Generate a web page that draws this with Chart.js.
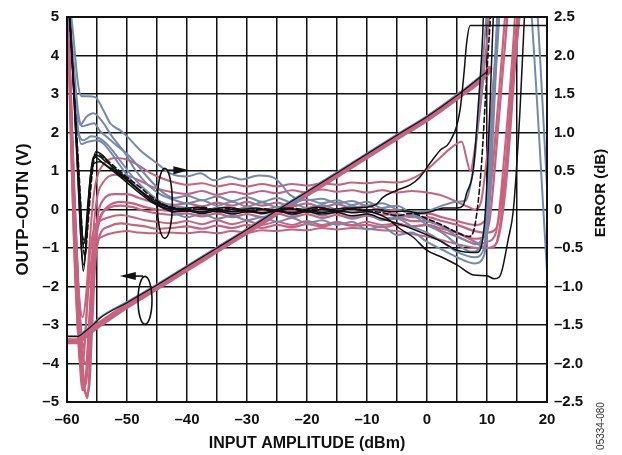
<!DOCTYPE html>
<html>
<head>
<meta charset="utf-8">
<script src="https://cdn.jsdelivr.net/npm/chart.js@4"></script>
<style>
  html, body { margin: 0; padding: 0; background: #fff; }
  #wrap { width: 622px; height: 455px; }
</style>
</head>
<body>
<div id="wrap"><canvas id="chart" width="622" height="455"></canvas></div>
<script>
// axis ranges / ticks
const xMin = -60, xMax = 20, xStep = 5;
const vMin = -5, vMax = 5, vStep = 1;
const eMin = -2.5, eMax = 2.5, eStep = 0.5;

// OUTP-OUTN (V) vs input (dBm), left axis
const voltPink = [[-60,-3.42],[-58.4,-3.42],[-57.6,-3.35],[-56,-3.15],[-54.8,-3.0],[-54,-2.92],[-50,-2.5],[-45,-2.02],[-40,-1.54],[-35,-1.05],[-30,-0.57],[-25,-0.08],[-20,0.41],[-15,0.9],[-10,1.39],[-5,1.88],[0,2.36],[5,2.92],[10,3.55],[10.4,3.65]];
const voltBlue = [[-60,-3.28],[-58.3,-3.28],[-57,-3.15],[-55.5,-2.95],[-54.3,-2.78],[-50,-2.4],[-45,-1.94],[-40,-1.46],[-35,-0.98],[-30,-0.5],[-25,0.0],[-20,0.48],[-15,0.97],[-10,1.46],[-5,1.95],[0,2.43],[5,2.98],[10,3.6]];
const voltBlack = [[-60,-3.3],[-58.3,-3.3],[-57,-3.17],[-55.5,-2.97],[-54.3,-2.8],[-50,-2.42],[-45,-1.96],[-40,-1.48],[-35,-1.0],[-30,-0.52],[-25,-0.02],[-20,0.46],[-15,0.95],[-10,1.44],[-5,1.93],[0,2.41],[5,2.96],[10,3.58]];

// ERROR (dB) vs input (dBm), right axis
const errBlack1 = [[-60,3.0],[-59.2,2.0],[-58.4,1.0],[-57.8,0.2],[-57.4,-0.4],[-57,-0.6],[-56.6,-0.3],[-56,0.3],[-55.5,0.65],[-55,0.72],[-54,0.68],[-52,0.55],[-50,0.42],[-48,0.3],[-46,0.17],[-44,0.07],[-42,0.02],[-40,0.0],[-37.5,0.03],[-35,-0.01],[-32.5,0.02],[-30,-0.02],[-27.5,0.01],[-25,-0.01],[-22.5,0.02],[-20,-0.01],[-17.5,0.02],[-15,-0.02],[-12.5,0.01],[-10,-0.02],[-7.5,-0.04],[-5,-0.08],[-2.5,-0.05],[0,-0.12],[2.5,-0.2],[5,-0.3],[7,-0.35],[8,-0.2],[9,0.5],[10,1.8],[11,3.0]];
const errBlack2 = [[-60,3.2],[-59.3,2.2],[-58.5,0.9],[-57.8,-0.2],[-57.3,-0.8],[-56.9,-0.55],[-56.3,0.2],[-55.7,0.6],[-55.2,0.75],[-54,0.7],[-52,0.5],[-50,0.38],[-48,0.25],[-46,0.12],[-44,0.03],[-42,0.0],[-40,-0.02],[-37.5,0.01],[-35,-0.03],[-32.5,0.0],[-30,-0.03],[-27.5,0.0],[-25,-0.02],[-22.5,0.01],[-20,-0.03],[-17.5,0.0],[-15,-0.02],[-12.5,0.02],[-10,0.03],[-8.4,0.07],[-7.3,0.16],[-5,0.25],[-2.8,0.32],[-1.2,0.42],[0.5,0.6],[2.2,0.77],[3.8,0.88],[5.5,1.29],[6.2,1.8],[6.6,2.16],[7.2,2.39],[20,2.39]];
const errBlack3 = [[-60,3.0],[-59,1.8],[-58.2,0.5],[-57.6,-0.5],[-57.2,-0.72],[-56.7,-0.3],[-56,0.4],[-55.5,0.6],[-54.5,0.62],[-53,0.55],[-51,0.45],[-49,0.32],[-47,0.2],[-45,0.1],[-43,0.03],[-40,-0.01],[-37.5,-0.03],[-35,0.0],[-32.5,-0.03],[-30,-0.01],[-27.5,-0.04],[-25,-0.02],[-22.5,-0.04],[-20,-0.01],[-17.5,-0.04],[-15,-0.02],[-12.5,-0.04],[-10,-0.03],[-7,-0.1],[-4.5,-0.25],[-2.3,-0.36],[0,-0.53],[2.5,-0.62],[5,-0.72],[7.8,-0.85],[10,-0.86],[11.2,-0.9],[12,-0.88],[12.5,-0.79],[13.5,-0.4],[14.4,0.0],[15.5,1.29],[16.3,2.6],[16.6,3.0]];
const errBlack4 = [[-60,3.1],[-59.1,1.9],[-58.3,0.8],[-57.7,0.0],[-57.3,-0.45],[-56.8,-0.3],[-56.2,0.35],[-55.6,0.68],[-55,0.7],[-53.5,0.62],[-51.5,0.5],[-49.5,0.36],[-47.5,0.22],[-45.5,0.1],[-43.5,0.04],[-41,0.01],[-38.5,0.03],[-36,0.0],[-33.5,0.03],[-31,0.0],[-28.5,0.02],[-26,-0.01],[-23.5,0.02],[-21,-0.01],[-18.5,0.03],[-16,0.0],[-13.5,0.02],[-11,-0.01],[-8.5,0.0],[-6,-0.03],[-3.5,-0.02],[-1,-0.05],[1,-0.02],[2.7,0.02],[5,0.02],[6,0.05],[6.6,0.21],[7.7,0.51],[8.5,1.3],[9.3,2.3],[9.6,3.0]];
const errBlack5 = [[-60,2.9],[-59.4,2.3],[-58.6,1.1],[-58,0.3],[-57.5,-0.3],[-57.1,-0.4],[-56.5,0.1],[-55.9,0.55],[-55.3,0.68],[-54,0.6],[-52,0.48],[-50,0.35],[-48,0.22],[-46,0.1],[-44,0.02],[-42,-0.03],[-40,-0.02],[-37.5,-0.05],[-35,-0.02],[-32.5,-0.06],[-30,-0.03],[-27.5,-0.05],[-25,-0.02],[-22.5,-0.06],[-20,-0.03],[-17.5,-0.06],[-15,-0.04],[-12.5,-0.08],[-10,-0.06],[-7.5,-0.12],[-5,-0.18],[-2.5,-0.25],[0,-0.33],[2.5,-0.42],[5,-0.53],[8.3,-0.56],[9.5,-0.25],[10,0.37],[10.8,2.0],[11.3,3.0]];

const errBlue1 = [[-60,3.0],[-59,2.3],[-58.2,1.65],[-57.6,1.47],[-56.5,1.47],[-55.3,1.46],[-54,1.3],[-52.8,1.12],[-51,1.02],[-50,0.95],[-47.8,0.77],[-45,0.6],[-42.8,0.47],[-40,0.43],[-37.8,0.47],[-35.5,0.38],[-33,0.43],[-31,0.39],[-28,0.44],[-25.5,0.41],[-24,0.3],[-23,0.2],[-20,0.12],[-17.5,0.14],[-15,0.08],[-12.5,0.11],[-10,0.05],[-7.5,0.08],[-5,0.0],[-2.5,-0.05],[0,-0.15],[2.5,-0.22],[5,-0.35],[7,-0.42],[8,-0.45],[9.5,-0.3],[10.5,0.8],[11.5,2.2],[12,3.0]];
const errBlue2 = [[-60,2.9],[-59,2.0],[-58.2,1.3],[-57.5,1.08],[-56.5,1.1],[-55.5,1.12],[-54.5,1.02],[-53,0.92],[-52,0.85],[-50,0.72],[-48,0.55],[-46,0.37],[-44,0.22],[-42,0.15],[-40,0.18],[-37.5,0.12],[-35,0.17],[-32.5,0.11],[-30,0.16],[-27.5,0.1],[-25,0.15],[-22.5,0.09],[-20,0.13],[-17.5,0.08],[-15,0.12],[-12.5,0.06],[-10,0.1],[-7.5,0.02],[-5,0.05],[-2.5,-0.04],[0,-0.02],[2.5,0.05],[5,0.1],[6.5,0.12],[7.2,0.3],[8,0.7],[9,1.6],[10,2.6],[10.5,3.0]];
const errBlue3 = [[-60,2.8],[-59,1.8],[-58.2,1.05],[-57.2,0.9],[-56,0.95],[-54.5,0.92],[-53,0.82],[-51,0.62],[-49,0.42],[-47,0.26],[-45,0.13],[-42.5,0.05],[-40,0.02],[-37.5,-0.04],[-35,0.02],[-32.5,-0.05],[-30,0.01],[-27.5,-0.06],[-25,0.0],[-22.5,-0.07],[-20,-0.02],[-17.5,-0.08],[-15,-0.03],[-12.5,-0.1],[-10,-0.06],[-7.5,-0.14],[-5,-0.12],[-2.5,-0.22],[0,-0.3],[2.5,-0.42],[5,-0.55],[8,-0.62],[9.5,-0.5],[10.5,0.5],[11.5,2.0],[12,3.0],[15,4.5],[18,3.0],[20,0.3]];
const errBlue4 = [[-60,2.9],[-59.2,2.1],[-58.4,1.2],[-57.6,0.85],[-56.5,0.88],[-55,0.9],[-54,0.86],[-52.5,0.72],[-50.5,0.5],[-48.5,0.3],[-46.5,0.15],[-44,0.02],[-42,-0.05],[-40,-0.1],[-37.5,-0.06],[-35,-0.12],[-32.5,-0.08],[-30,-0.14],[-27.5,-0.1],[-25,-0.16],[-22.5,-0.11],[-20,-0.18],[-17.5,-0.14],[-15,-0.2],[-12.5,-0.16],[-10,-0.26],[-7.5,-0.22],[-5,-0.33],[-2.5,-0.3],[0,-0.42],[2.5,-0.52],[5,-0.62],[8,-0.7],[9.5,-0.6],[10.5,0.2],[11.5,1.8],[12.5,3.0],[15,4.5],[17,3.0],[20,-0.8]];
const errBlue5 = [[-60,3.0],[-59.3,2.2],[-58.5,1.4],[-57.8,1.1],[-56.8,1.2],[-55.6,1.25],[-54.2,1.15],[-52.5,0.95],[-50.5,0.75],[-48.5,0.5],[-46.5,0.32],[-44.5,0.2],[-42,0.12],[-40,0.08],[-37.5,0.12],[-35,0.05],[-32.5,0.1],[-30,0.04],[-27.5,0.09],[-25,0.03],[-22.5,0.08],[-20,0.02],[-17.5,0.06],[-15,0.0],[-12.5,0.05],[-10,-0.02],[-7.5,0.02],[-5,-0.1],[-2.5,-0.08],[0,-0.2],[2.5,-0.3],[5,-0.45],[7.5,-0.55],[9,-0.45],[10,0.0],[11,1.2],[12,2.6],[12.3,3.0]];

const errPink1 = [[-60,3.0],[-59.3,1.2],[-58.6,-0.3],[-58,-1.1],[-57.4,-1.4],[-56.8,-1.1],[-56.2,-0.4],[-55.6,0.15],[-55,0.42],[-54,0.58],[-52,0.67],[-50,0.65],[-48,0.57],[-46,0.47],[-44,0.4],[-42,0.35],[-40,0.32],[-37.5,0.34],[-35,0.3],[-32.5,0.33],[-30,0.3],[-27.5,0.33],[-25,0.3],[-22.5,0.33],[-20,0.31],[-17.5,0.34],[-15,0.32],[-12.5,0.35],[-10,0.34],[-7.5,0.36],[-5,0.35],[-2.5,0.4],[0,0.52],[2,0.66],[4,0.8],[5.8,0.88],[6.6,0.66],[7.2,0.5],[8,0.8],[9,1.4],[10,2.2],[11,3.0]];
const errPink2 = [[-60,3.0],[-59.4,1.5],[-58.7,0.0],[-58,-1.2],[-57.3,-1.9],[-56.8,-2.0],[-56.2,-1.3],[-55.6,-0.3],[-55,0.15],[-54,0.35],[-52,0.45],[-50,0.44],[-48,0.38],[-46,0.3],[-44,0.25],[-42,0.22],[-40,0.2],[-37.5,0.24],[-35,0.19],[-32.5,0.23],[-30,0.2],[-27.5,0.24],[-25,0.21],[-22.5,0.25],[-20,0.22],[-17.5,0.26],[-15,0.23],[-12.5,0.25],[-10,0.22],[-7.5,0.25],[-5,0.22],[-2.5,0.24],[0,0.22],[2.5,0.18],[5,0.1],[7,0.03],[8,0.0],[9,0.1],[10,0.7],[11,1.6],[12,2.5],[12.5,3.0]];
const errPink3 = [[-60,3.0],[-59.5,1.8],[-58.8,0.3],[-58,-1.2],[-57.2,-2.2],[-56.6,-2.45],[-56,-1.6],[-55.4,-0.5],[-54.8,-0.05],[-54,0.12],[-52,0.2],[-50,0.2],[-48,0.15],[-46,0.1],[-44,0.07],[-42,0.06],[-40,0.08],[-37.5,0.04],[-35,0.09],[-32.5,0.05],[-30,0.1],[-27.5,0.05],[-25,0.09],[-22.5,0.04],[-20,0.08],[-17.5,0.03],[-15,0.07],[-12.5,0.02],[-10,0.05],[-7.5,-0.02],[-5,0.0],[-2.5,-0.06],[0,-0.05],[2.5,-0.1],[5,-0.15],[8,-0.2],[10,-0.1],[11,0.6],[12.5,2.0],[13.5,3.0]];
const errPink4 = [[-60,3.0],[-59.4,1.4],[-58.6,-0.4],[-57.8,-1.7],[-57.2,-2.3],[-56.6,-2.1],[-56,-1.2],[-55.3,-0.35],[-54.5,-0.1],[-53,0.02],[-51,0.05],[-49,0.03],[-47,-0.02],[-45,-0.05],[-42.5,-0.07],[-40,-0.05],[-37.5,-0.09],[-35,-0.05],[-32.5,-0.1],[-30,-0.06],[-27.5,-0.1],[-25,-0.05],[-22.5,-0.1],[-20,-0.06],[-17.5,-0.11],[-15,-0.07],[-12.5,-0.12],[-10,-0.08],[-7.5,-0.12],[-5,-0.1],[-2.5,-0.15],[0,-0.15],[2.5,-0.22],[5,-0.3],[8,-0.38],[9.5,-0.36],[10.5,-0.1],[12,1.2],[13.5,2.6],[14,3.0]];
const errPink5 = [[-60,3.0],[-59.5,1.9],[-58.9,0.4],[-58.2,-0.9],[-57.6,-1.6],[-57.2,-1.8],[-56.7,-1.3],[-56.2,-0.6],[-55.5,-0.25],[-54.5,-0.15],[-53,-0.1],[-51,-0.07],[-49,-0.1],[-47,-0.14],[-45,-0.16],[-42.5,-0.18],[-40,-0.15],[-37.5,-0.19],[-35,-0.14],[-32.5,-0.19],[-30,-0.15],[-27.5,-0.2],[-25,-0.16],[-22.5,-0.2],[-20,-0.15],[-17.5,-0.2],[-15,-0.16],[-12.5,-0.2],[-10,-0.16],[-7.5,-0.2],[-5,-0.18],[-2.5,-0.22],[0,-0.2],[2.5,-0.28],[5,-0.35],[8.5,-0.45],[10,-0.42],[11.5,-0.3],[13,0.8],[14.5,2.3],[15,3.0]];
const errPink6 = [[-60,3.0],[-59.6,2.0],[-59,0.5],[-58.3,-1.0],[-57.6,-2.0],[-56.9,-2.4],[-56.3,-2.3],[-55.8,-1.5],[-55.3,-0.7],[-54.6,-0.35],[-53,-0.22],[-51,-0.18],[-49,-0.2],[-47,-0.22],[-45,-0.25],[-42.5,-0.24],[-40,-0.22],[-37.5,-0.25],[-35,-0.21],[-32.5,-0.24],[-30,-0.2],[-27.5,-0.24],[-25,-0.2],[-22.5,-0.23],[-20,-0.19],[-17.5,-0.22],[-15,-0.18],[-12.5,-0.21],[-10,-0.2],[-7.5,-0.23],[-5,-0.2],[-2.5,-0.22],[0,-0.2],[2.5,-0.25],[5,-0.3],[8,-0.42],[10,-0.5],[11.5,-0.45],[13,0.2],[15,2.2],[16,3.0]];
const errPink7 = [[-60,3.0],[-59.5,1.3],[-58.9,-0.3],[-58.3,-1.4],[-57.8,-2.0],[-57.2,-1.9],[-56.6,-1.2],[-56,-0.7],[-55.3,-0.45],[-54,-0.35],[-52,-0.3],[-50,-0.28],[-48,-0.3],[-46,-0.31],[-43,-0.3],[-40,-0.31],[-37.5,-0.29],[-35,-0.31],[-32.5,-0.28],[-30,-0.3],[-27.5,-0.27],[-25,-0.28],[-22.5,-0.26],[-20,-0.27],[-17.5,-0.24],[-15,-0.26],[-12.5,-0.24],[-10,-0.25],[-7.5,-0.27],[-5,-0.28],[-2.5,-0.32],[0,-0.35],[2.5,-0.4],[5,-0.45],[9,-0.5],[11,-0.5],[12.5,0.0],[14,1.5],[15.5,3.0]];
const errPink8 = [[-60,3.0],[-59.3,0.8],[-58.6,-0.9],[-58,-1.8],[-57.4,-2.35],[-56.9,-2.2],[-56.4,-1.6],[-55.8,-0.9],[-55.2,-0.4],[-54.4,-0.1],[-53,0.05],[-51,0.1],[-49,0.08],[-47,0.03],[-45,0.0],[-42.5,-0.02],[-40,0.01],[-37.5,-0.03],[-35,0.02],[-32.5,-0.02],[-30,0.03],[-27.5,-0.01],[-25,0.03],[-22.5,-0.02],[-20,0.02],[-17.5,-0.03],[-15,0.01],[-12.5,-0.04],[-10,-0.02],[-7.5,-0.07],[-5,-0.06],[-2.5,-0.1],[0,-0.1],[2.5,-0.15],[5,-0.2],[8,-0.28],[10,-0.3],[11.5,-0.25],[13,0.5],[14.5,1.8],[16,2.9],[16.5,3.2]];

const PINK = '#c9627f';
const BLUE = '#7489ab';
const BLACK = '#111111';
const FONT = 'Liberation Sans, Arial, Helvetica, sans-serif';

function fmt(v, digits) {
    if (v === 0) return '0';
    const s = Math.abs(v).toFixed(digits);
    return v < 0 ? '\u2013' + s : s;
}

function line(data, color, width, axis, dash) {
    return {
        data: data,
        yAxisID: axis,
        borderColor: color,
        borderWidth: width,
        borderDash: dash || [],
        pointRadius: 0,
        fill: false,
        cubicInterpolationMode: 'monotone',
        borderJoinStyle: 'round',
        borderCapStyle: 'round'
    };
}

// first dataset is drawn on top
const datasets = [
    line(errBlack1, BLACK, 1.6, 'y2', [5, 3]),
    line(errBlack2, BLACK, 1.5, 'y2'),
    line(errBlack3, BLACK, 1.5, 'y2'),
    line(errBlack4, BLACK, 1.5, 'y2'),
    line(errBlack5, BLACK, 1.5, 'y2'),
    line(voltBlack, BLACK, 1.2, 'y'),
    line(voltBlue, BLUE, 1.8, 'y'),
    line(errBlue1, BLUE, 2, 'y2'),
    line(errBlue2, BLUE, 2, 'y2'),
    line(errBlue3, BLUE, 2, 'y2'),
    line(errBlue4, BLUE, 2, 'y2'),
    line(errBlue5, BLUE, 2, 'y2'),
    line(voltPink, PINK, 6, 'y'),
    line(errPink1, PINK, 2, 'y2'),
    line(errPink2, PINK, 2, 'y2'),
    line(errPink3, PINK, 2.2, 'y2'),
    line(errPink4, PINK, 2.2, 'y2'),
    line(errPink5, PINK, 2, 'y2'),
    line(errPink6, PINK, 2.2, 'y2'),
    line(errPink7, PINK, 2, 'y2'),
    line(errPink8, PINK, 2.2, 'y2')
];

// ellipse + arrow markers telling which curve belongs to which axis
const markers = {
    id: 'markers',
    afterDatasetsDraw(chart) {
        const { ctx, scales } = chart;
        const x = scales.x, yv = scales.y;
        ctx.save();
        ctx.strokeStyle = BLACK;
        ctx.fillStyle = BLACK;
        ctx.lineWidth = 1.6;

        function marker(cxVal, cyVal, rx, ry, tipVal, arrowY) {
            const cx = x.getPixelForValue(cxVal);
            const cy = yv.getPixelForValue(cyVal);
            const tip = x.getPixelForValue(tipVal);
            const ay = yv.getPixelForValue(arrowY);
            ctx.beginPath();
            ctx.ellipse(cx, cy, rx, ry, 0, 0, Math.PI * 2);
            ctx.stroke();
            const dir = tip > cx ? 1 : -1;
            ctx.beginPath();
            ctx.moveTo(cx + dir * 2, ay);
            ctx.lineTo(tip - dir * 12, ay);
            ctx.stroke();
            ctx.beginPath();
            ctx.moveTo(tip, ay);
            ctx.lineTo(tip - dir * 16, ay - 4);
            ctx.lineTo(tip - dir * 16, ay + 4);
            ctx.closePath();
            ctx.fill();
        }
        marker(-43.7, 0.16, 7.5, 35, -39.6, 1.02);
        marker(-47, -2.36, 7, 24, -51.2, -1.73);
        ctx.restore();

        // right axis title reads bottom to top like the left one
        ctx.save();
        ctx.translate(601, 193);
        ctx.rotate(-Math.PI / 2);
        ctx.font = 'bold 15px ' + FONT;
        ctx.fillStyle = BLACK;
        ctx.textAlign = 'center';
        ctx.textBaseline = 'middle';
        ctx.fillText('ERROR (dB)', 0, 0);
        ctx.restore();

        // figure code
        ctx.save();
        ctx.translate(601, 426);
        ctx.rotate(-Math.PI / 2);
        ctx.font = '10px ' + FONT;
        ctx.fillStyle = '#333';
        ctx.textAlign = 'center';
        ctx.textBaseline = 'middle';
        ctx.fillText('05334-080', 0, 0);
        ctx.restore();

        // plot frame
        const a = chart.chartArea;
        ctx.save();
        ctx.strokeStyle = BLACK;
        ctx.lineWidth = 2;
        ctx.strokeRect(a.left, a.top, a.right - a.left, a.bottom - a.top);
        ctx.restore();
    }
};

const tickFont = { family: FONT, size: 15, weight: 'bold' };

new Chart(document.getElementById('chart').getContext('2d'), {
    type: 'line',
    data: { datasets: datasets },
    options: {
        responsive: false,
        animation: false,
        events: [],
        layout: { padding: { top: 17, left: 0, right: 0, bottom: 0 } },
        plugins: {
            legend: { display: false },
            tooltip: { enabled: false }
        },
        scales: {
            x: {
                type: 'linear',
                min: xMin, max: xMax,
                afterFit: (s) => { s.height = 53; },
                grid: { color: BLACK, lineWidth: 1.5, drawTicks: false },
                border: { color: BLACK, width: 2 },
                ticks: {
                    stepSize: xStep, autoSkip: false, maxRotation: 0, padding: 9,
                    color: BLACK, font: tickFont,
                    callback: (v) => (v % 10 === 0 ? fmt(v, 0) : '')
                },
                title: {
                    display: true, text: 'INPUT AMPLITUDE (dBm)', color: BLACK,
                    font: { family: FONT, size: 16, weight: 'bold' },
                    padding: { top: 0, bottom: 1.5 }
                }
            },
            y: {
                position: 'left',
                min: vMin, max: vMax,
                afterFit: (s) => { s.width = 67; },
                grid: { color: BLACK, lineWidth: 1.5, drawTicks: false },
                border: { color: BLACK, width: 2 },
                ticks: {
                    stepSize: vStep, padding: 8, color: BLACK, font: tickFont,
                    callback: (v) => fmt(v, 0)
                },
                title: {
                    display: true, text: 'OUTP\u2013OUTN (V)', color: BLACK,
                    font: { family: FONT, size: 17, weight: 'bold' },
                    padding: { top: 13, bottom: 0 }
                }
            },
            y2: {
                position: 'right',
                min: eMin, max: eMax,
                afterFit: (s) => { s.width = 75; },
                grid: { display: false, drawTicks: false },
                border: { color: BLACK, width: 2 },
                ticks: {
                    stepSize: eStep, padding: 7, color: BLACK, font: tickFont,
                    callback: (v) => fmt(v, 1)
                },
                title: { display: false }
            }
        }
    },
    plugins: [markers]
});
</script>
</body>
</html>
